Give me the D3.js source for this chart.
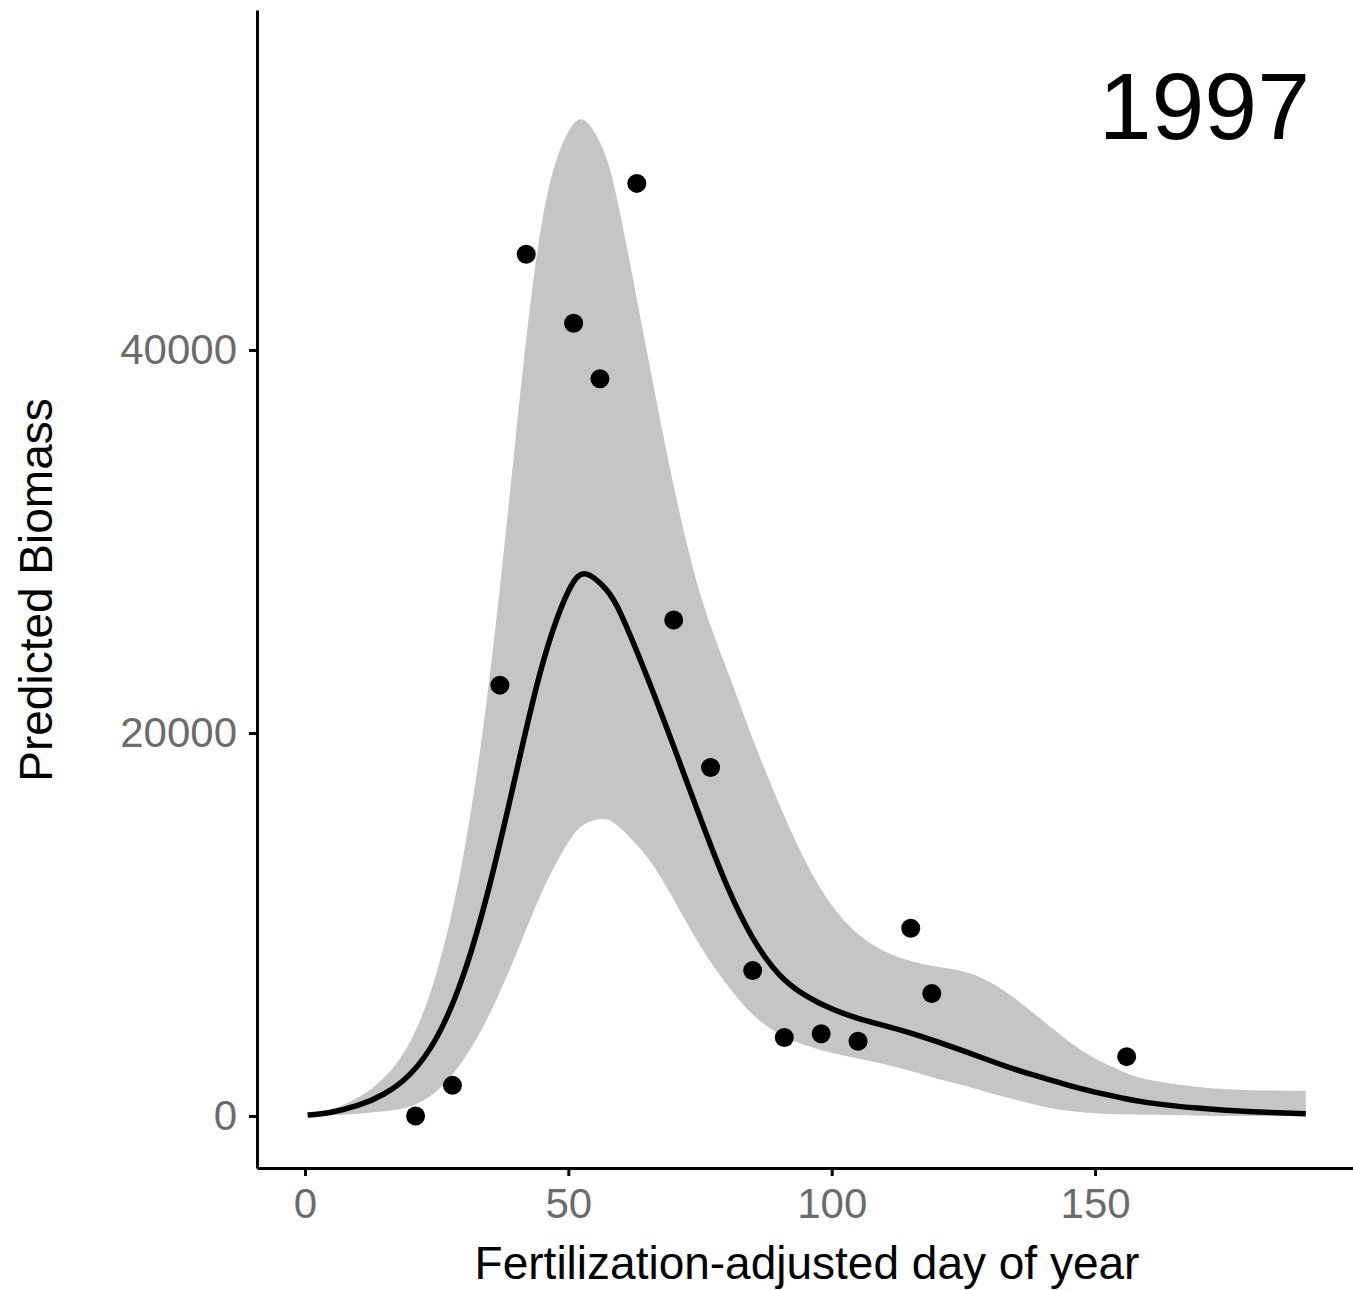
<!DOCTYPE html>
<html>
<head>
<meta charset="utf-8">
<script src="https://cdn.jsdelivr.net/npm/d3@7"></script>
<style>
  body { margin: 0; background: #fff; }
  svg text { font-family: "Liberation Sans", Arial, sans-serif; }
</style>
</head>
<body>
<div id="chart"></div>
<script>
// observed biomass points
var obsDay     = [21, 28, 37, 42, 51, 56, 63, 70, 77, 85, 91, 98, 105, 115, 119, 156];
var obsBiomass = [0, 1600, 22500, 45000, 41400, 38500, 48700, 25900, 18200, 7600, 4100, 4300, 3900, 9800, 6400, 3100];

// fitted curve and confidence band
var fitDay   = [0.5, 5, 10, 15, 20, 25, 30, 35, 40, 45, 50, 53.5, 57, 60, 65, 70, 75, 80, 85, 90, 95, 100, 105, 110, 115, 120, 125, 130, 135, 140, 145, 150, 155, 160, 170, 180, 190];
var fitMean  = [50, 200, 550, 1150, 2200, 4100, 7300, 12000, 17800, 23500, 27400, 28300, 27550, 26200, 22900, 19300, 15600, 12100, 9300, 7400, 6300, 5600, 5100, 4720, 4330, 3880, 3400, 2900, 2420, 2000, 1600, 1250, 950, 700, 400, 220, 120];
var fitUpper = [50, 350, 950, 2000, 3900, 7500, 13500, 22800, 35400, 46700, 51400, 51900, 50200, 46900, 39800, 32900, 27300, 23400, 19700, 16300, 13300, 11000, 9500, 8600, 8100, 7800, 7550, 7000, 6100, 5000, 3900, 3000, 2350, 1900, 1500, 1350, 1300];
var fitLower = [0, 40, 120, 250, 500, 1300, 2900, 5300, 8400, 11700, 14300, 15300, 15500, 15000, 13500, 11300, 8900, 6900, 5300, 4300, 3700, 3300, 3000, 2700, 2350, 1950, 1600, 1200, 850, 500, 280, 150, 90, 60, 20, 0, 0];

var yTicks = [0, 20000, 40000];
var xTicks = [0, 50, 100, 150];

var W = 1353, H = 1290;
var svg = d3.select('#chart').append('svg')
    .attr('width', W)
    .attr('height', H);

var x = d3.scaleLinear().domain([-9.11, 198.97]).range([257, 1353]);
var y = d3.scaleLinear().domain([-2715, 57755]).range([1168, 10]);

var fit = fitDay.map(function(d, i) {
  return {day: d, mean: fitMean[i], lo: fitLower[i], hi: fitUpper[i]};
});

// band
svg.append('path')
    .datum(fit)
    .attr('fill', '#c5c5c5')
    .attr('d', d3.area()
      .x(function(d) { return x(d.day); })
      .y0(function(d) { return y(d.lo); })
      .y1(function(d) { return y(d.hi); })
      .curve(d3.curveNatural));

// fitted line
svg.append('path')
    .datum(fit)
    .attr('fill', 'none')
    .attr('stroke', '#000')
    .attr('stroke-width', 5.5)
    .attr('d', d3.line()
      .x(function(d) { return x(d.day); })
      .y(function(d) { return y(d.mean); })
      .curve(d3.curveNatural));

// points
svg.append('g').selectAll('circle')
    .data(obsDay)
  .enter().append('circle')
    .attr('cx', function(d) { return x(d); })
    .attr('cy', function(d, i) { return y(obsBiomass[i]); })
    .attr('r', 9.5)
    .attr('fill', '#000');

// axes
var xAxis = svg.append('g')
    .attr('transform', 'translate(0,1168)')
    .call(d3.axisBottom(x).tickValues(xTicks).tickSizeInner(8).tickSizeOuter(0).tickPadding(12).tickFormat(d3.format('d')));
var yAxis = svg.append('g')
    .attr('transform', 'translate(257,0)')
    .call(d3.axisLeft(y).tickValues(yTicks).tickSizeInner(8).tickSizeOuter(0).tickPadding(12).tickFormat(d3.format('d')));

[xAxis, yAxis].forEach(function(a) {
  a.select('.domain').attr('stroke', '#000').attr('stroke-width', 3);
  a.selectAll('.tick line').attr('stroke', '#000').attr('stroke-width', 3);
  a.selectAll('.tick text')
      .attr('fill', '#6b6b6b')
      .style('font-size', '42px')
      .style('font-family', '"Liberation Sans", Arial, sans-serif');
});

// titles
svg.append('text')
    .attr('x', 807)
    .attr('y', 1279)
    .attr('text-anchor', 'middle')
    .style('font-size', '46px')
    .text('Fertilization-adjusted day of year');

svg.append('text')
    .attr('transform', 'translate(52,590) rotate(-90)')
    .attr('text-anchor', 'middle')
    .style('font-size', '46px')
    .text('Predicted Biomass');

svg.append('text')
    .attr('x', 1310)
    .attr('y', 139)
    .attr('text-anchor', 'end')
    .style('font-size', '95px')
    .text('1997');
</script>
</body>
</html>
